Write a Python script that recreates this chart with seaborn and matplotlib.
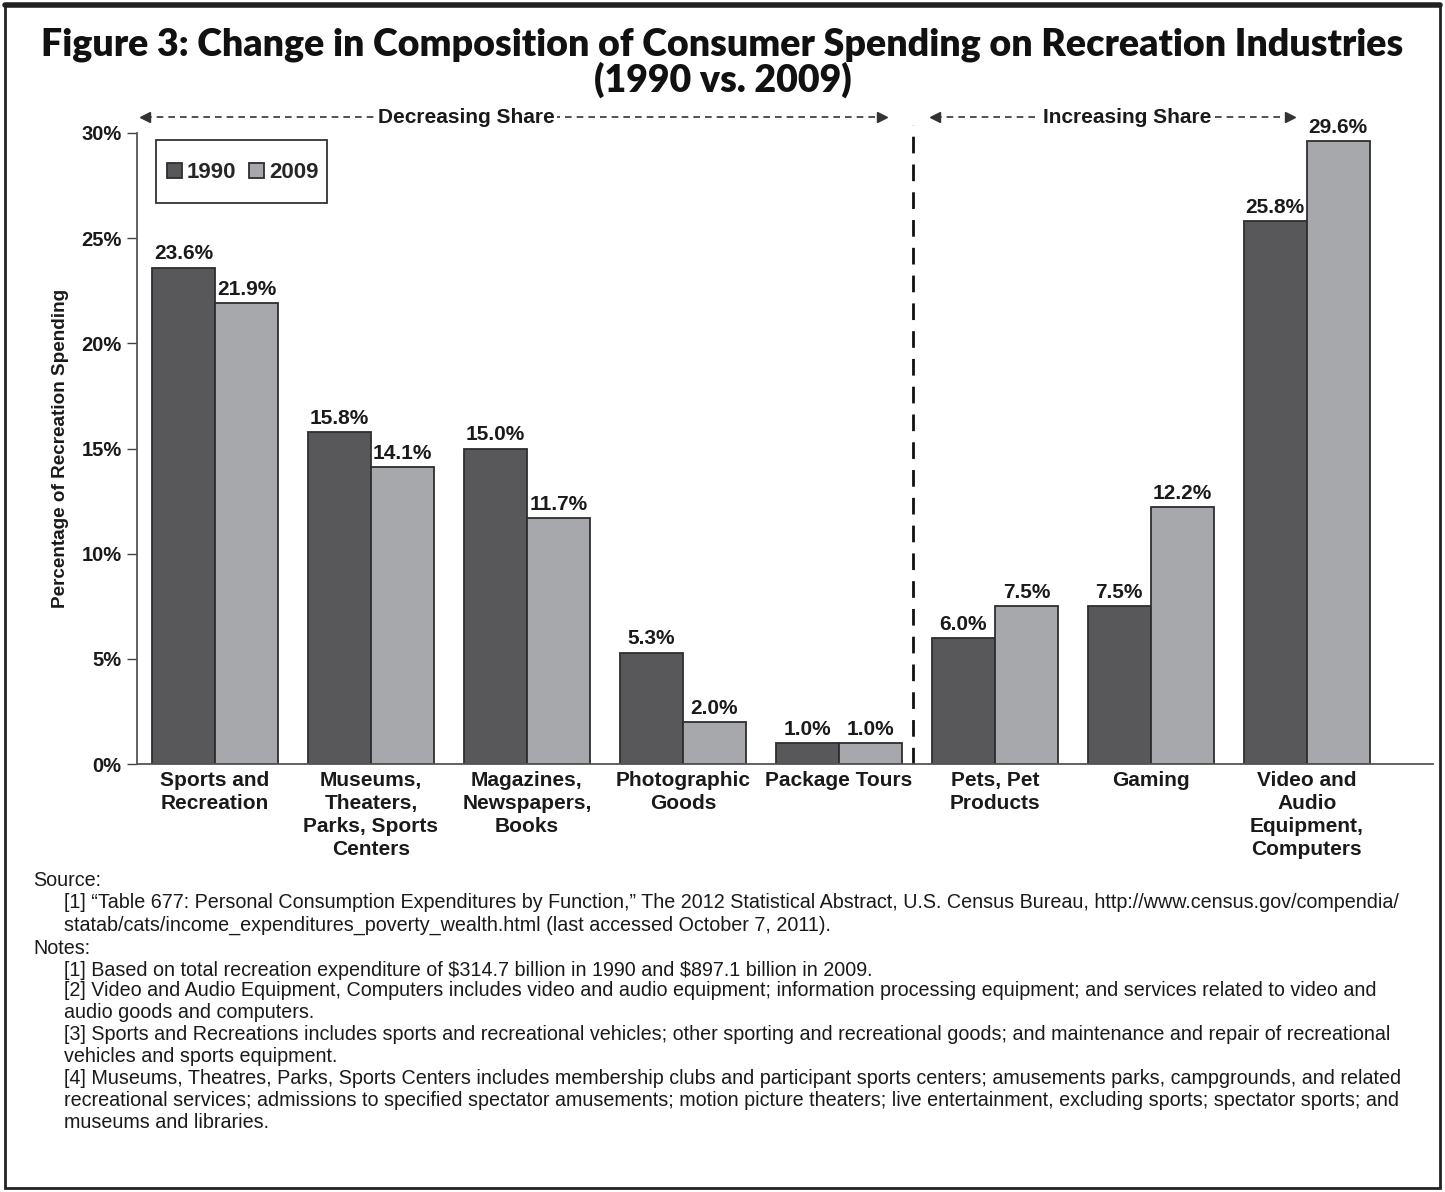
import matplotlib
matplotlib.use("Agg")
import matplotlib.pyplot as plt
from matplotlib.patches import Rectangle
from matplotlib.lines import Line2D
import seaborn as sns
import pandas as pd

# Recreation spending shares by industry
categories = [
    "Sports and\nRecreation",
    "Museums,\nTheaters,\nParks, Sports\nCenters",
    "Magazines,\nNewspapers,\nBooks",
    "Photographic\nGoods",
    "Package Tours",
    "Pets, Pet\nProducts",
    "Gaming",
    "Video and\nAudio\nEquipment,\nComputers",
]
years = ["1990", "2009"]
share_1990 = [23.6, 15.8, 15.0, 5.3, 1.0, 6.0, 7.5, 25.8]
share_2009 = [21.9, 14.1, 11.7, 2.0, 1.0, 7.5, 12.2, 29.6]
yticks = [0, 5, 10, 15, 20, 25, 30]

df = pd.DataFrame({
    "category": categories * 2,
    "year": [years[0]] * len(categories) + [years[1]] * len(categories),
    "share": share_1990 + share_2009,
})

sns.set_theme(style="white")
plt.rcParams["font.family"] = ["Liberation Sans", "DejaVu Sans"]

fig = plt.figure(figsize=(14.45, 11.92), dpi=100)
ax = fig.add_axes([137 / 1445, 1 - 764 / 1192, (1433 - 137) / 1445, (764 - 133) / 1192])

dark, light, edge = "#58585a", "#a7a8ab", "#2e2e30"
sns.barplot(data=df, x="category", y="share", hue="year", palette=[dark, light],
            width=0.81, saturation=1, edgecolor=edge, linewidth=1.3, ax=ax)

for cont in ax.containers:
    ax.bar_label(cont, labels=[f"{b.get_height():.1f}%" for b in cont], padding=3,
                 fontsize=15, fontweight="bold", color="#1a1a1a")

ax.set_xlim(-0.5, 7.81)
ax.set_ylim(0, 30)
ax.set_yticks(yticks)
ax.set_yticklabels([f"{t}%" for t in yticks], fontsize=14.5, fontweight="bold", color="#1a1a1a")
ax.tick_params(axis="y", length=7, width=1, color="#444", left=True, pad=4)
ax.tick_params(axis="x", length=0, pad=5)
for lbl in ax.get_xticklabels():
    lbl.set_fontsize(15)
    lbl.set_fontweight("bold")
    lbl.set_color("#1a1a1a")
    lbl.set_linespacing(1.27)
    lbl.set_va("top")
ax.set_xlabel("")
ax.set_ylabel("Percentage of Recreation Spending", fontsize=13.6, fontweight="bold",
              color="#1a1a1a", labelpad=9)
for side in ["top", "right"]:
    ax.spines[side].set_visible(False)
for side in ["left", "bottom"]:
    ax.spines[side].set_color("#555")
    ax.spines[side].set_linewidth(1.3)

# Legend: entries without frame, plus a plain box around them
handles = [Rectangle((0, 0), 1, 1, facecolor=c, edgecolor=edge, linewidth=1.3) for c in (dark, light)]
leg = ax.legend(handles, years, loc="center left", bbox_to_anchor=(0.0231, 0.9374), ncol=2,
                frameon=False, handlelength=0.68, handleheight=0.68, handletextpad=0.22,
                columnspacing=0.58, borderpad=0, borderaxespad=0,
                prop={"size": 16, "weight": "bold"})
ax.add_patch(Rectangle((0.01466, 0.889), 0.1319, 0.0998, transform=ax.transAxes,
                       fill=False, edgecolor="#333", linewidth=1.3, zorder=5))

# Divider between decreasing and increasing share groups
ax.plot([4.474, 4.474], [0, 30.4], color="#111", lw=2, ls=(0, (6, 4)), clip_on=False)

# Bracket arrows with group labels
arrow_y = 30.76
for x0, x1, xt, txt in [(-0.449, 4.28, 1.609, "Decreasing Share"),
                        (4.615, 6.89, 5.85, "Increasing Share")]:
    ax.plot([x0, x1], [arrow_y, arrow_y], color="#333", lw=1.2, ls=(0, (4, 3)), clip_on=False)
    ax.plot([x0], [arrow_y], marker="<", color="#333", ms=7, clip_on=False)
    ax.plot([x1], [arrow_y], marker=">", color="#333", ms=7, clip_on=False)
    ax.text(xt, arrow_y, txt, ha="center", va="center", fontsize=15, fontweight="bold",
            color="#1a1a1a", bbox=dict(facecolor="white", edgecolor="none", pad=2), clip_on=False)

# Title
fig.text(0.5, 1 - 45 / 1192, "Figure 3: Change in Composition of Consumer Spending on Recreation Industries",
         ha="center", va="center", fontsize=27, fontweight="heavy", family=["Lato", "DejaVu Sans"],
         color="#111")
fig.text(0.5, 1 - 80 / 1192, "(1990 vs. 2009)", ha="center", va="center", fontsize=27,
         fontweight="heavy", family=["Lato", "DejaVu Sans"], color="#111")

# Source and notes
notes = [
    (33, 881, "Source:"),
    (64, 903, "[1] \u201cTable 677: Personal Consumption Expenditures by Function,\u201d The 2012 Statistical Abstract, U.S. Census Bureau, http://www.census.gov/compendia/"),
    (64, 925, "statab/cats/income_expenditures_poverty_wealth.html (last accessed October 7, 2011)."),
    (33, 948, "Notes:"),
    (64, 970, "[1] Based on total recreation expenditure of \\$314.7 billion in 1990 and \\$897.1 billion in 2009."),
    (64, 991, "[2] Video and Audio Equipment, Computers includes video and audio equipment; information processing equipment; and services related to video and"),
    (64, 1013, "audio goods and computers."),
    (64, 1035, "[3] Sports and Recreations includes sports and recreational vehicles; other sporting and recreational goods; and maintenance and repair of recreational"),
    (64, 1057, "vehicles and sports equipment."),
    (64, 1079, "[4] Museums, Theatres, Parks, Sports Centers includes membership clubs and participant sports centers; amusements parks, campgrounds, and related"),
    (64, 1101, "recreational services; admissions to specified spectator amusements; motion picture theaters; live entertainment, excluding sports; spectator sports; and"),
    (64, 1123, "museums and libraries."),
]
for x, y, t in notes:
    fig.text(x / 1445, 1 - y / 1192, t, ha="left", va="center", fontsize=14.2, color="#1a1a1a")

# Page frame
fig.add_artist(Rectangle((5 / 1445, 4 / 1192), 1435 / 1445, 1183 / 1192, transform=fig.transFigure,
                         fill=False, edgecolor="#222", linewidth=2))
fig.add_artist(Line2D([5 / 1445, 1440 / 1445], [1 - 5 / 1192, 1 - 5 / 1192], transform=fig.transFigure,
                      color="#222", linewidth=4))

fig.savefig("out.png", dpi=100)
